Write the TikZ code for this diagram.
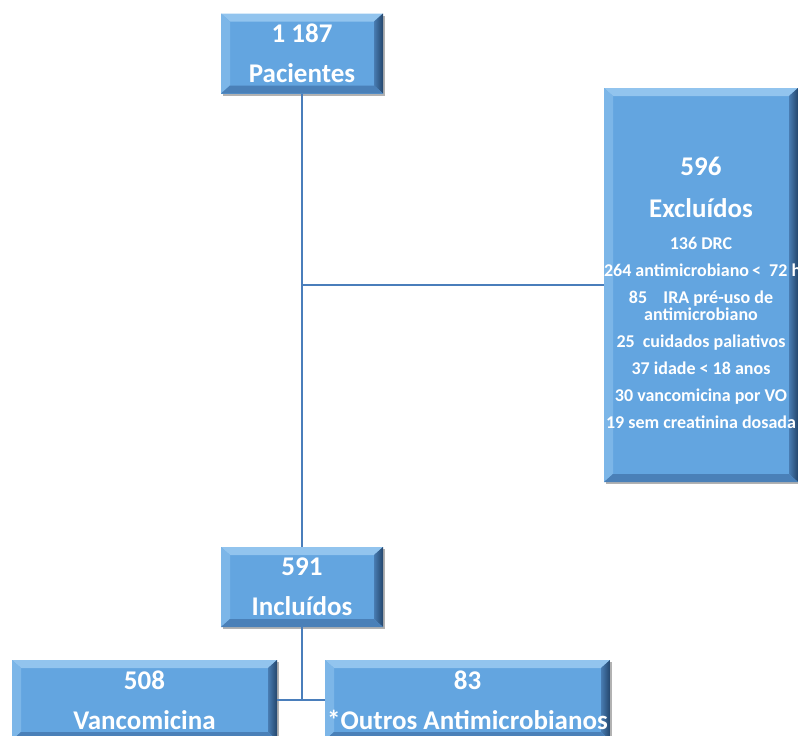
\documentclass[tikz,border=0pt]{standalone}
\usepackage{fontspec}
\setmainfont{Carlito}
\usetikzlibrary{shadows}
\definecolor{boxblue}{RGB}{99,165,224}
\definecolor{bevtopc}{RGB}{146,196,238}
\definecolor{bevleftc}{RGB}{124,182,232}
\definecolor{bevrightin}{RGB}{72,124,178}
\definecolor{bevrightout}{RGB}{36,70,108}
\definecolor{bevbotc}{RGB}{74,128,184}
\definecolor{linkc}{RGB}{74,126,187}
\newcommand\fbig{\fontsize{27}{40}\selectfont}
\newcommand\fsmall{\fontsize{18}{27}\selectfont}
\tikzset{
  bev/.style={rectangle, inner sep=0pt, fill=boxblue, text=white,
    font=\bfseries\fbig, align=center,
    drop shadow={shadow xshift=2pt, shadow yshift=-2pt, opacity=0.3, fill=black},
    path picture={
      \coordinate (pA) at (path picture bounding box.north west);
      \coordinate (pB) at (path picture bounding box.north east);
      \coordinate (pC) at (path picture bounding box.south east);
      \coordinate (pD) at (path picture bounding box.south west);
      \fill[bevtopc] (pA) -- (pB) -- ([shift={(-9pt,-8pt)}]pB) -- ([shift={(9pt,-8pt)}]pA) -- cycle;
      \fill[bevleftc] (pA) -- ([shift={(9pt,-8pt)}]pA) -- ([shift={(9pt,8pt)}]pD) -- (pD) -- cycle;
      \shade[left color=bevrightin, right color=bevrightout] (pB) -- (pC) -- ([shift={(-9pt,8pt)}]pC) -- ([shift={(-9pt,-8pt)}]pB) -- cycle;
      \fill[bevbotc] (pD) -- ([shift={(9pt,8pt)}]pD) -- ([shift={(-9pt,8pt)}]pC) -- (pC) -- cycle;
    }},
  link/.style={draw=linkc, line width=2.5pt}
}
\begin{document}
\begin{tikzpicture}[x=1pt, y=-1pt]
\useasboundingbox (0,0) rectangle (798,736);
\clip (0,0) rectangle (798,736);
\fill[white] (0,0) rectangle (798,736);

\node[bev, minimum width=162pt, minimum height=80pt] (top) at (302,53.5) {1 187\\Pacientes};
\node[bev, minimum width=162pt, minimum height=80pt] (incl) at (302,587) {591\\Inclu\'idos};
\node[bev, minimum width=194pt, minimum height=394pt, text width=194pt] (exc) at (701,285) {%
  \centering\hyphenpenalty=10000 \spaceskip=0pt \xspaceskip=0pt
  \fontsize{27}{42}\selectfont \mbox{\rule{0pt}{35pt}596}\par \mbox{Exclu\'idos}\par
  \vspace{5pt}\fsmall \mbox{136 DRC}\par
  \mbox{264 antimicrobiano\,<\ \ 72 h}\par
  \mbox{85\ \ \ \ IRA pr\'e-uso de}\\[-10pt]\mbox{antimicrobiano}\par
  \mbox{25\ \ cuidados paliativos}\par
  \mbox{37 idade < 18 anos}\par
  \mbox{30 vancomicina por VO}\par
  \mbox{19 sem creatinina dosada}\par};
\node[bev, minimum width=265pt, minimum height=80pt] (vanc) at (144.5,700) {508\\Vancomicina};
\node[bev, minimum width=285pt, minimum height=80pt] (outros) at (467.5,700) {83\\*Outros Antimicrobianos};

\coordinate (j1) at (top.south |- exc.west);
\coordinate (j2) at (incl.south |- vanc.east);
\draw[link] (top.south) -- (incl.north);
\draw[link] (j1) -- (exc.west);
\draw[link] (incl.south) -- (j2);
\draw[link] (vanc.east) -- (outros.west);
\end{tikzpicture}
\end{document}
